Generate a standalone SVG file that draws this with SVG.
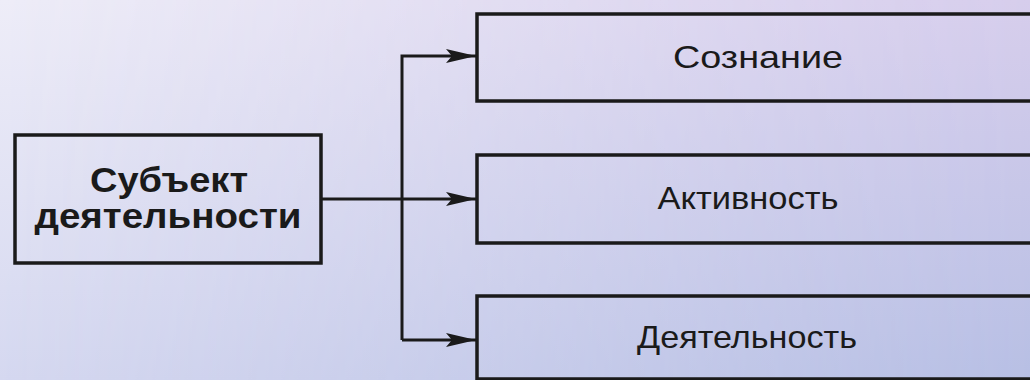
<svg xmlns="http://www.w3.org/2000/svg" width="1030" height="380" viewBox="0 0 1030 380">
<defs>
<linearGradient id="gl" x1="0" y1="0" x2="0" y2="1">
<stop offset="0" stop-color="#eeedf8"/>
<stop offset="1" stop-color="#d5d8f0"/>
</linearGradient>
<linearGradient id="gr" x1="0" y1="0" x2="0" y2="1">
<stop offset="0" stop-color="#d6cdec"/>
<stop offset="1" stop-color="#b7bfe4"/>
</linearGradient>
<linearGradient id="gm" x1="0" y1="0" x2="1" y2="0">
<stop offset="0" stop-color="#fff" stop-opacity="0"/>
<stop offset="1" stop-color="#fff" stop-opacity="1"/>
</linearGradient>
<mask id="m" maskUnits="userSpaceOnUse" x="0" y="0" width="1030" height="380">
<rect width="1030" height="380" fill="url(#gm)"/>
</mask>
<marker id="arr" viewBox="0 0 30 14" refX="30" refY="7" markerWidth="30" markerHeight="14" markerUnits="userSpaceOnUse" orient="auto">
<path d="M0,0 L30,7 L0,14 L6,7 Z" fill="#1a1a1a"/>
</marker>
</defs>
<style>
.box{fill:none;stroke:#1a1a1a;stroke-width:3.5}
.ln{fill:none;stroke:#1a1a1a;stroke-width:3}
.t{font-family:"Liberation Sans",Arial,sans-serif;font-size:32px;fill:#1a1a1a;text-anchor:middle}
.tb{font-family:"Liberation Sans",Arial,sans-serif;font-size:35px;font-weight:bold;fill:#1a1a1a;text-anchor:middle}
</style>
<rect width="1030" height="380" fill="url(#gl)"/>
<rect width="1030" height="380" fill="url(#gr)" mask="url(#m)"/>
<g id="connectors">
<line class="ln" x1="321" y1="199" x2="476" y2="199" marker-end="url(#arr)"/>
<path class="ln" d="M402,340 V56 H476" marker-end="url(#arr)"/>
<path class="ln" d="M402,340 H476" marker-end="url(#arr)"/>
</g>
<g id="subject">
<rect class="box" x="15" y="135" width="306" height="128"/>
<text class="tb" x="169" y="192" textLength="158" lengthAdjust="spacingAndGlyphs">Субъект</text>
<text class="tb" x="168" y="228" textLength="267" lengthAdjust="spacingAndGlyphs">деятельности</text>
</g>
<g id="soznanie">
<rect class="box" x="477" y="14" width="580" height="87"/>
<text class="t" x="758" y="68" textLength="170" lengthAdjust="spacingAndGlyphs">Сознание</text>
</g>
<g id="aktivnost">
<rect class="box" x="477" y="155" width="580" height="88"/>
<text class="t" x="748" y="209" textLength="181" lengthAdjust="spacingAndGlyphs">Активность</text>
</g>
<g id="deyatelnost">
<rect class="box" x="477" y="296" width="580" height="83"/>
<text class="t" x="747" y="348" textLength="220" lengthAdjust="spacingAndGlyphs">Деятельность</text>
</g>
</svg>
